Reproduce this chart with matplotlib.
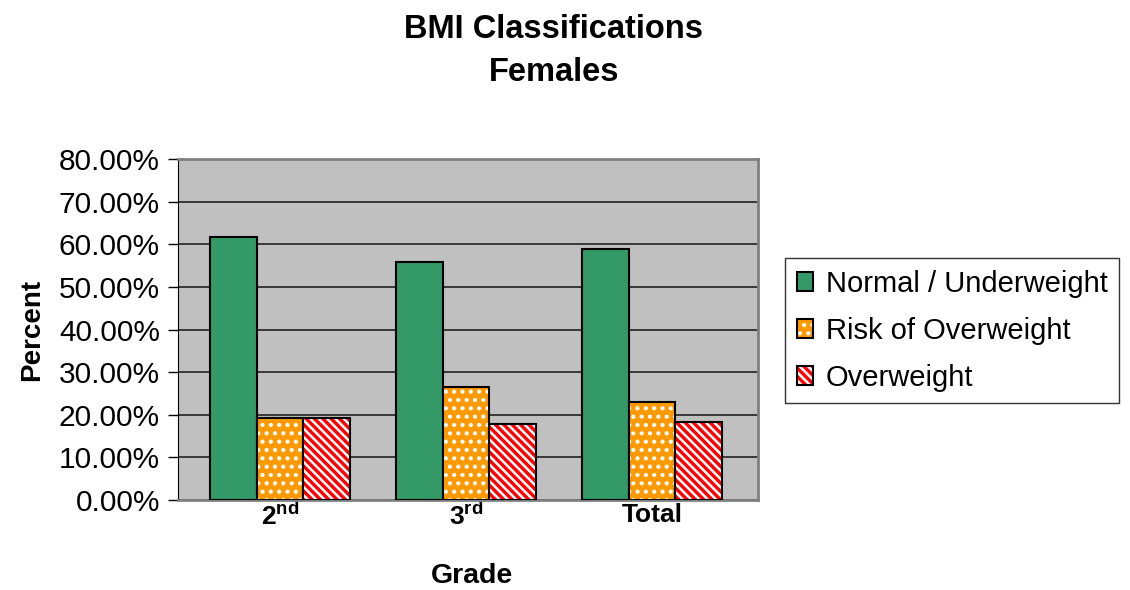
import numpy as np
import matplotlib.pyplot as plt
from matplotlib.patches import Patch
from matplotlib.legend_handler import HandlerTuple

plt.rcParams['font.family'] = ['Liberation Sans', 'DejaVu Sans']
plt.rcParams['mathtext.fontset'] = 'custom'
plt.rcParams['mathtext.rm'] = 'Liberation Sans'
plt.rcParams['mathtext.bf'] = 'Liberation Sans:bold'
plt.rcParams['hatch.linewidth'] = 1.8

# 数据
grades = [r'$\mathbf{2^{nd}}$', r'$\mathbf{3^{rd}}$', 'Total']
normal = [61.8, 55.9, 58.8]
risk = [19.3, 26.6, 22.9]
over = [19.3, 17.8, 18.3]
series_names = ['Normal / Underweight', 'Risk of Overweight', 'Overweight']

x = np.arange(len(grades))
w = 0.25
dots = '..'
stripes = '\\\\\\\\'

fig = plt.figure(figsize=(11.3, 5.9), dpi=100)
ax = fig.add_axes([0.1575, 0.1525, 0.5133, 0.578])
ax.set_facecolor('#C0C0C0')

ax.bar(x - w, normal, w, color='#339966', edgecolor='black', linewidth=1.5, zorder=3)
# 橙色带白点，红色带白斜纹：先画图案，再套黑边框
ax.bar(x, risk, w, color='#FF9900', edgecolor='white', hatch=dots, linewidth=0, zorder=3)
ax.bar(x, risk, w, fill=False, edgecolor='black', linewidth=1.5, zorder=4)
ax.bar(x + w, over, w, color='#FF0000', edgecolor='white', hatch=stripes, linewidth=0, zorder=3)
ax.bar(x + w, over, w, fill=False, edgecolor='black', linewidth=1.5, zorder=4)

ax.set_xlim(-0.548, 2.57)
ax.set_ylim(0, 80)
ax.set_yticks(np.arange(0, 81, 10))
ax.set_yticklabels(['%.2f%%' % v for v in np.arange(0, 81, 10)], fontsize=21.5)
ax.yaxis.grid(True, color='#222222', linewidth=1.2, zorder=1)
ax.set_xticks(x)
ax.set_xticklabels(grades, fontsize=19, fontweight='bold')
ax.tick_params(axis='x', length=0, pad=2)
ax.tick_params(axis='y', length=7, width=1, direction='out', pad=6)

for s in ['top', 'right']:
    ax.spines[s].set_color('#808080')
    ax.spines[s].set_linewidth(2)
ax.spines['left'].set_color('black')
ax.spines['bottom'].set_color('#808080')
ax.spines['bottom'].set_linewidth(2)

ax.set_ylabel('Percent', fontsize=20, fontweight='bold', labelpad=10)
fig.text(0.418, 0.012, 'Grade', fontsize=20.5, fontweight='bold', ha='center')
fig.text(0.49, 0.913, 'BMI Classifications\nFemales', fontsize=23.5, fontweight='bold',
         ha='center', va='center', linespacing=1.5)

# 图例
handles = [Patch(facecolor='#339966', edgecolor='black', linewidth=1.5),
           (Patch(facecolor='#FF9900', edgecolor='white', hatch='..', linewidth=0),
            Patch(fill=False, edgecolor='black', linewidth=1.5)),
           (Patch(facecolor='#FF0000', edgecolor='white', hatch='\\\\\\\\', linewidth=0),
            Patch(fill=False, edgecolor='black', linewidth=1.5))]
leg = fig.legend(handles, series_names, loc='upper left', bbox_to_anchor=(0.6947, 0.5627),
                 handler_map={tuple: HandlerTuple(ndivide=1, pad=0)},
                 fontsize=21, frameon=True, fancybox=False, handlelength=0.55, handleheight=0.6,
                 handletextpad=0.45, labelspacing=0.65, borderpad=0.4, borderaxespad=0)
leg.get_frame().set_edgecolor('black')
leg.get_frame().set_linewidth(1)

fig.savefig('out.png', dpi=100)
